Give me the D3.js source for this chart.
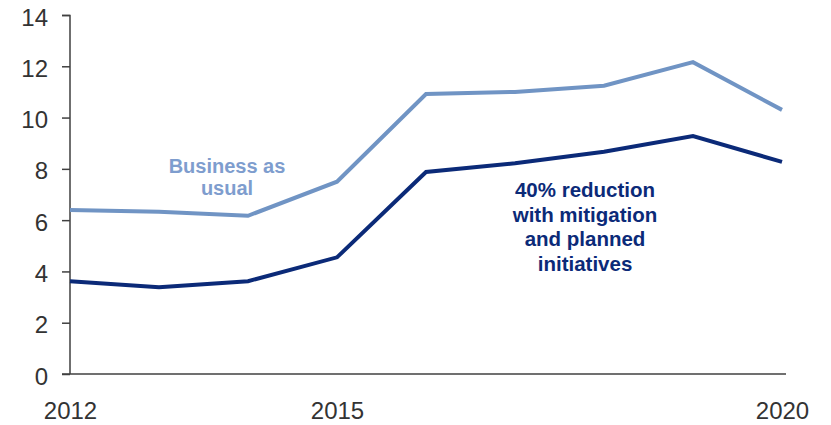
<!DOCTYPE html>
<html>
<head>
<meta charset="utf-8">
<script src="https://cdn.jsdelivr.net/npm/d3@7"></script>
<style>
  html, body { margin: 0; padding: 0; background: #fff; }
  svg { display: block; }
</style>
</head>
<body>
<svg id="chart" width="831" height="425"></svg>
<script>
const years = [2012, 2013, 2014, 2015, 2016, 2017, 2018, 2019, 2020];
const businessAsUsual = [6.40, 6.33, 6.17, 7.50, 10.92, 11.00, 11.24, 12.16, 10.30];
const reduction = [3.62, 3.38, 3.62, 4.55, 7.88, 8.22, 8.67, 9.28, 8.27];
const yTicks = [0, 2, 4, 6, 8, 10, 12, 14];
const xTickLabels = [2012, 2015, 2020];
const labelBAU = ["Business as", "usual"];
const labelRed = ["40% reduction", "with mitigation", "and planned", "initiatives"];

const svg = d3.select("#chart");
const x = d3.scaleLinear().domain([2012, 2020]).range([70, 782]);
const y = d3.scaleLinear().domain([0, 14]).range([374, 15]);

const axisColor = "#404040";
const textColor = "#333333";
const font = "'Liberation Sans', Arial, sans-serif";

// Y axis
const yAxis = d3.axisLeft(y).tickValues(yTicks).tickSize(8).tickPadding(14).tickFormat(d3.format("d"));
const gy = svg.append("g").attr("transform", "translate(70,0)").call(yAxis);
gy.select(".domain").attr("stroke", axisColor).attr("stroke-width", 1.5).attr("d", "M-8,15.5H0V374");
gy.selectAll(".tick line").attr("stroke", axisColor).attr("stroke-width", 1.5);
gy.selectAll(".tick text").attr("fill", textColor).attr("font-family", font).attr("font-size", 24).attr("dy", "0.42em");

// X axis
const xAxis = d3.axisBottom(x).tickValues(xTickLabels).tickSize(0).tickPadding(28).tickFormat(d3.format("d"));
const gx = svg.append("g").attr("transform", "translate(0,374)").call(xAxis);
gx.select(".domain").attr("stroke", axisColor).attr("stroke-width", 1.5).attr("d", "M62,0H786");
gx.selectAll(".tick text").attr("fill", textColor).attr("font-family", font).attr("font-size", 24).attr("dy", "0.71em");

// Lines
const line = d3.line().x((d, i) => x(years[i])).y(d => y(d));
svg.append("path").datum(businessAsUsual).attr("d", line)
  .attr("fill", "none").attr("stroke", "#7094c4").attr("stroke-width", 4).attr("stroke-linejoin", "miter");
svg.append("path").datum(reduction).attr("d", line)
  .attr("fill", "none").attr("stroke", "#0b2a78").attr("stroke-width", 4).attr("stroke-linejoin", "miter");

// Labels
const t1 = svg.append("text").attr("text-anchor", "middle").attr("font-family", font)
  .attr("font-weight", "bold").attr("font-size", 20).attr("fill", "#7e9dce");
labelBAU.forEach((s, i) => t1.append("tspan").attr("x", 227).attr("y", 173 + i * 21.5).text(s));

const t2 = svg.append("text").attr("text-anchor", "middle").attr("font-family", font)
  .attr("font-weight", "bold").attr("font-size", 20.5).attr("fill", "#0b2a78");
labelRed.forEach((s, i) => t2.append("tspan").attr("x", 585).attr("y", 197 + i * 24.5).text(s));
</script>
</body>
</html>
